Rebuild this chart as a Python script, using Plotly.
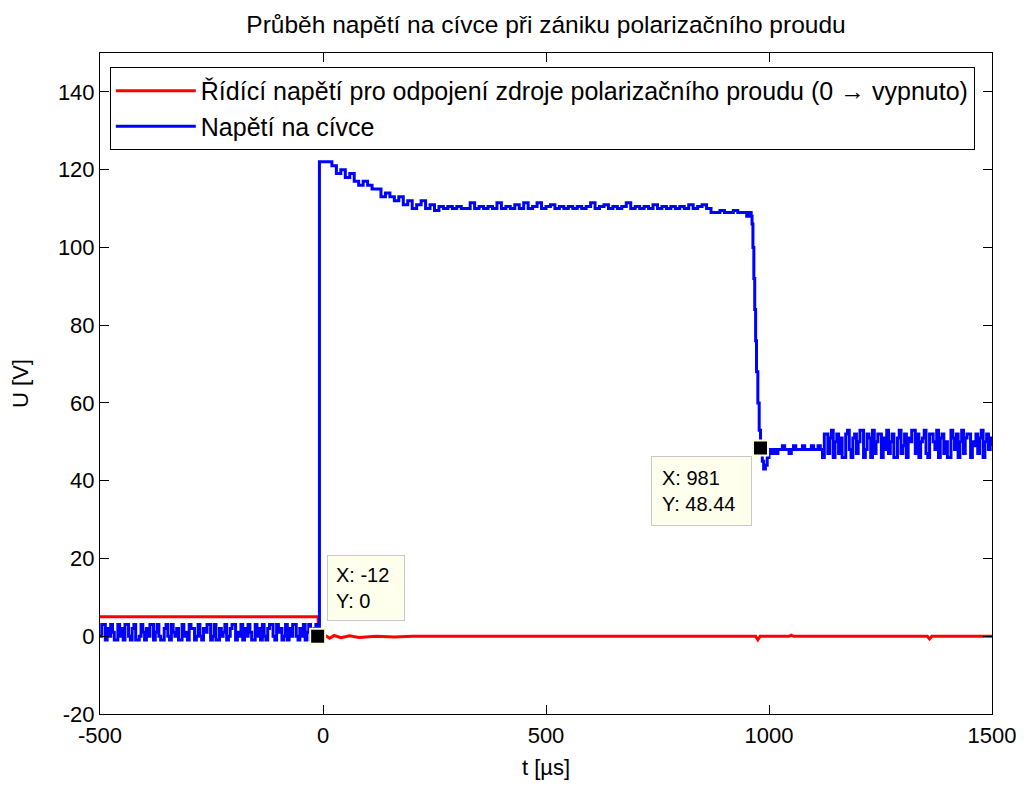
import numpy as np
import plotly.graph_objects as go

# ---------------- data ----------------
# blue: coil voltage, before switch-off (t = -500 ... , step 4 us)
pre_start, pre_step = -500, 4
pre_vals = [0, 3, 3, -1, 2, 0, 3, 1, -1, -1, 3, 0, 2, -1, 3, 3, 0, -1, 2, 3,
            -1, -1, 0, 3, 1, -1, 2, 0, 3, 3, -1, 1, 3, 0, -1, -1, 2, 3, 0, -1,
            3, 1, 0, 2, -1, -1, 3, 0, 1, -1, 3, 2, 2, -1, 0, 3, 0, -1, 2, 1,
            3, 3, -1, 0, 3, -1, -1, 2, 0, 1, 3, -1, 0, 2, 3, 3, -1, 1, 0, 3,
            -1, 2, 0, 3, 1, -1, -1, 3, 0, 2, -1, 3, 0, -1, 2, 3, 3, 0, -1, 3,
            1, 2, -1, 0, 3, -1, 2, 0, 3, 3, 0, -1, 2, 0, 3, -1, 1, 3, -1, 0,
            2, 3]

# jump around t = -12 us
jump_t = [-12, -9, -8, -3]
jump_v = [0, 0, 122, 122]

# plateau (t = 0 ... 950, step 10 us)
plat_start, plat_step = 0, 10
plat_vals = [122, 122, 121, 119, 120, 118, 119, 117, 116, 117,
             116, 115, 115, 113, 114, 113, 112, 113, 111, 112,
             110, 111, 112, 110, 111, 109.5, 110.5, 110, 110.5, 110,
             110.5, 110, 110, 111.5, 110, 110.5, 110, 110.5, 110, 111.5,
             110, 110.5, 110, 111, 110, 111.5, 110, 110.5, 111.5, 110,
             110.5, 111, 110, 110.5, 110, 110.5, 110, 110.5, 110, 110.5,
             111.5, 110, 110.5, 111, 110, 110.5, 110, 110.5, 111.5, 110,
             110.5, 110, 110.5, 110, 111, 110, 110.5, 110, 110.5, 110,
             110.5, 110, 111, 110, 110.5, 111, 110, 109, 109, 109.5,
             109, 109, 109.5, 109, 109, 108]

# fall of the voltage
fall_t = [955, 960, 962, 964, 966, 968, 970, 972, 975, 978, 981, 985, 988, 992, 996, 1000, 1005]
fall_v = [109, 108, 106, 100, 92, 84, 76, 68, 60, 53, 48.44, 45, 43, 44, 46, 48, 47]

# quiet part after the fall (t = 1010 ... , step 5 us)
quiet_start, quiet_step = 1010, 5
quiet_vals = [48, 47, 48, 48, 49, 48, 48, 47, 48, 49, 48, 48, 48, 49, 48, 48,
              48, 49, 48, 48, 49, 48]

# noisy part (t = 1120 ... 1500, step 4 us)
noisy_start, noisy_step = 1120, 4
noisy_vals = [46, 52, 52, 47, 51, 53, 46, 50, 52, 47, 51, 46, 46, 52, 53, 48,
              46, 51, 52, 47, 50, 53, 53, 46, 48, 52, 51, 46, 53, 47, 50, 52,
              52, 46, 51, 48, 53, 47, 50, 52, 46, 46, 51, 53, 47, 49, 52, 46,
              51, 50, 53, 53, 47, 52, 46, 50, 51, 53, 47, 46, 52, 52, 50, 48,
              53, 46, 51, 52, 47, 50, 46, 46, 53, 51, 48, 52, 46, 50, 53, 47,
              51, 52, 52, 46, 50, 49, 52, 47, 51, 53, 46, 50, 52, 48, 51, 49]

# red: control voltage
red_t = [-500, -11, -10, 0, 5, 15, 25, 40, 60, 80, 120, 160, 200, 400, 600, 800,
         970, 975, 980, 1000, 1045, 1050, 1055, 1300, 1355, 1360, 1365, 1500]
red_v = [5, 5, 0, -0.3, 0.2, -0.5, 0.2, -0.4, 0.1, -0.3, 0, -0.2, 0, 0, 0, 0,
         0, -0.9, 0, 0, 0, 0.3, 0, 0, 0, -0.7, 0, 0]

# data tips
tip_x = [-12, 981]
tip_y = [0, 48.44]

title = "Průběh napětí na cívce při zániku polarizačního proudu"
name_red = "Řídící napětí pro odpojení zdroje polarizačního proudu (0 → vypnuto)"
name_blue = "Napětí na cívce"
x_ticks = [-500, 0, 500, 1000, 1500]
x_labels = ["-500", "0", "500", "1000", "1500"]
y_ticks = [-20, 0, 20, 40, 60, 80, 100, 120, 140]
y_labels = ["-20", "0", "20", "40", "60", "80", "100", "120", "140"]

# ---------------- assemble ----------------
def seg(start, step, vals):
    return [start + step * i for i in range(len(vals))], list(vals)

bt, bv = [], []
for t, v in [seg(pre_start, pre_step, pre_vals), (jump_t, jump_v),
             seg(plat_start, plat_step, plat_vals), (fall_t, fall_v),
             seg(quiet_start, quiet_step, quiet_vals),
             seg(noisy_start, noisy_step, noisy_vals)]:
    bt += t
    bv += v

FONT = "Liberation Sans, Arial, sans-serif"

fig = go.Figure()
fig.add_trace(go.Scatter(x=red_t, y=red_v, mode="lines", name=name_red,
                         line=dict(color="#FF0000", width=3)))
fig.add_trace(go.Scatter(x=bt, y=bv, mode="lines", name=name_blue,
                         line=dict(color="#0000FF", width=3, shape="hv")))
fig.add_trace(go.Scatter(x=tip_x, y=tip_y, mode="markers", showlegend=False,
                         marker=dict(symbol="square", size=15, color="black",
                                     line=dict(color="#FFFFE0", width=2))))

fig.add_annotation(x=9, y=4, xref="x", yref="y", xanchor="left", yanchor="bottom",
                   text="X: -12<br>Y: 0", showarrow=False, align="left",
                   width=60,
                   font=dict(family=FONT, size=20, color="black"),
                   bgcolor="#FFFFEE", bordercolor="#C8C8C8", borderwidth=1,
                   borderpad=8)
fig.add_annotation(x=735, y=46.3, xref="x", yref="y", xanchor="left", yanchor="top",
                   text="X: 981<br>Y: 48.44", showarrow=False, align="left",
                   width=79,
                   font=dict(family=FONT, size=20, color="black"),
                   bgcolor="#FFFFEE", bordercolor="#C8C8C8", borderwidth=1,
                   borderpad=10)

axis_common = dict(showline=True, linecolor="black", linewidth=1, mirror="ticks",
                   ticks="inside", ticklen=9, tickcolor="black", showgrid=False,
                   zeroline=False, automargin=False,
                   tickfont=dict(family=FONT, size=22, color="black"))

fig.update_xaxes(range=[-500, 1500], tickvals=x_ticks, ticktext=x_labels,
                 ticklabelstandoff=2,
                 title=dict(text="t [µs]", font=dict(family=FONT, size=22, color="black"),
                            standoff=12),
                 **axis_common)
fig.update_yaxes(range=[-20, 150], tickvals=y_ticks, ticktext=y_labels,
                 title=dict(text="U [V]", font=dict(family=FONT, size=22, color="black"),
                            standoff=31),
                 **axis_common)

# the page body adds an 8 px offset; margins compensate so the plot area
# sits at x 100..992, y 53..714 in the screenshot
fig.update_layout(
    width=1027, height=785,
    margin=dict(l=92, r=43, t=45, b=79),
    paper_bgcolor="white", plot_bgcolor="white",
    title=dict(text=title, x=0.5, xref="paper", xanchor="center",
               y=0.9796, yref="container", yanchor="middle",
               font=dict(family=FONT, size=24.5, color="black")),
    legend=dict(x=0.011, y=0.979, xanchor="left", yanchor="top",
                bgcolor="white", bordercolor="black", borderwidth=1,
                font=dict(family=FONT, size=25, color="black"),
                itemwidth=80, tracegroupgap=0),
    showlegend=True,
)

fig.write_html("out.html")
